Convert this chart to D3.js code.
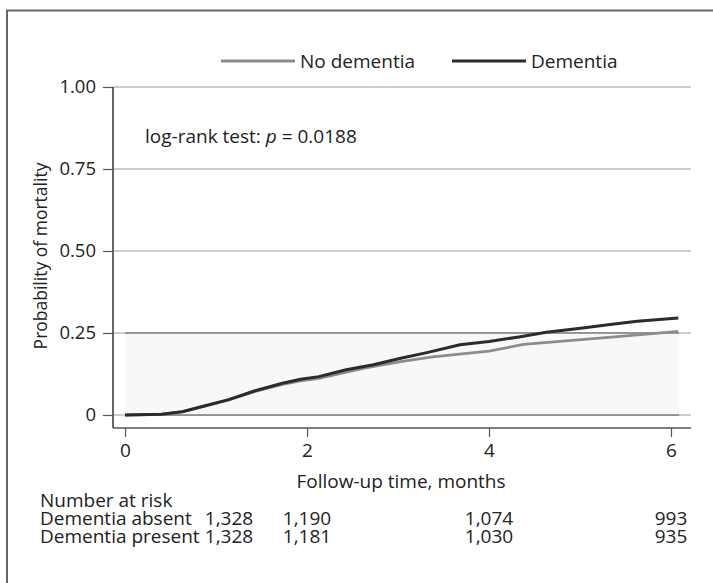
<!DOCTYPE html>
<html>
<head>
<meta charset="utf-8">
<script src="https://cdn.jsdelivr.net/npm/d3@7"></script>
<style>
  body { margin: 0; background: #fff; }
  text { font-family: "Open Sans", sans-serif; fill: #222; }
</style>
</head>
<body>
<svg id="chart" width="713" height="583"></svg>
<script>
// cumulative mortality (months, probability)
const monthsDementia = [0, 0.4, 0.63, 0.88, 1.13, 1.43, 1.73, 1.93, 2.13, 2.43, 2.73, 3.03, 3.33, 3.68, 4.0, 4.33, 4.63, 5.03, 5.33, 5.63, 6.08];
const probDementia   = [0, 0.002, 0.01, 0.028, 0.046, 0.074, 0.097, 0.109, 0.117, 0.138, 0.153, 0.173, 0.191, 0.214, 0.224, 0.238, 0.252, 0.265, 0.276, 0.286, 0.296];

const monthsNoDementia = [0, 0.4, 0.63, 0.88, 1.13, 1.43, 1.73, 1.93, 2.13, 2.63, 3.03, 3.38, 4.0, 4.38, 4.88, 5.38, 6.08];
const probNoDementia   = [0, 0.002, 0.01, 0.027, 0.045, 0.072, 0.093, 0.104, 0.112, 0.143, 0.163, 0.177, 0.195, 0.215, 0.227, 0.238, 0.255];

const yTicks = [0, 0.25, 0.5, 0.75, 1];
const yTickLabels = ["0", "0.25", "0.50", "0.75", "1.00"];
const xTicks = [0, 2, 4, 6];

const riskTimes = [0, 2, 4, 6];
const riskGroups = ["Dementia absent", "Dementia present"];
const riskAbsent = ["1,328", "1,190", "1,074", "993"];
const riskPresent = ["1,328", "1,181", "1,030", "935"];

const seriesNames = ["No dementia", "Dementia"];
const seriesColors = ["#8c8c8c", "#2b2b2b"];

const svg = d3.select("#chart");

const x = d3.scaleLinear().domain([0, 6]).range([125, 671]);
const y = d3.scaleLinear().domain([0, 1]).range([415, 87]);
const plotLeft = 113, plotRight = 691, axisY = 428;

// outer frame (left and top only)
svg.append("path")
    .attr("d", "M7,583V10.5H713")
    .attr("fill", "none")
    .attr("stroke", "#666")
    .attr("stroke-width", 2);

// gridlines
svg.append("g")
  .selectAll("line")
  .data(yTicks)
  .join("line")
    .attr("x1", plotLeft)
    .attr("x2", plotRight)
    .attr("y1", d => y(d))
    .attr("y2", d => y(d))
    .attr("stroke", "#bdbdbd")
    .attr("stroke-width", 1.5);

// shaded band under 0.25
const tEnd = 6.09;
svg.append("rect")
    .attr("x", x(0))
    .attr("y", y(0.25))
    .attr("width", x(tEnd) - x(0))
    .attr("height", y(0) - y(0.25))
    .attr("fill", "#f8f8f8");

svg.append("g")
  .selectAll("line")
  .data([0, 0.25])
  .join("line")
    .attr("x1", x(0))
    .attr("x2", x(tEnd))
    .attr("y1", d => y(d))
    .attr("y2", d => y(d))
    .attr("stroke", "#7d7d7d")
    .attr("stroke-width", 1.5);

// y axis
const yAxis = svg.append("g")
    .attr("transform", `translate(${plotLeft},0)`)
    .call(d3.axisLeft(y)
      .tickValues(yTicks)
      .tickFormat((d, i) => yTickLabels[i])
      .tickSize(10)
      .tickPadding(7)
      .tickSizeOuter(0));
yAxis.select(".domain")
    .attr("d", `M0,${y(1)}V${axisY}`)
    .attr("stroke", "#333")
    .attr("stroke-width", 1.5);
yAxis.selectAll(".tick line").attr("stroke", "#555").attr("stroke-width", 1.2);
yAxis.selectAll(".tick text")
    .style("font-family", "'Open Sans', sans-serif")
    .style("font-size", "18.5px")
    .attr("fill", "#222");

// x axis
const xAxis = svg.append("g")
    .attr("transform", `translate(0,${axisY})`)
    .call(d3.axisBottom(x)
      .tickValues(xTicks)
      .tickFormat(d3.format("d"))
      .tickSize(9)
      .tickPadding(7)
      .tickSizeOuter(0));
xAxis.select(".domain")
    .attr("d", `M${plotLeft},0H${plotRight}`)
    .attr("stroke", "#555")
    .attr("stroke-width", 1.5);
xAxis.selectAll(".tick line").attr("stroke", "#555").attr("stroke-width", 1.2);
xAxis.selectAll(".tick text")
    .style("font-family", "'Open Sans', sans-serif")
    .style("font-size", "19px")
    .attr("fill", "#222");

// axis titles
svg.append("text")
    .attr("transform", "translate(47,256) rotate(-90)")
    .attr("text-anchor", "middle")
    .style("font-size", "17.5px")
    .text("Probability of mortality");

svg.append("text")
    .attr("x", 401)
    .attr("y", 488)
    .attr("text-anchor", "middle")
    .style("font-size", "19px")
    .text("Follow-up time, months");

// curves
const line = d3.line().x(d => x(d[0])).y(d => y(d[1]));
const curves = [
  d3.zip(monthsNoDementia, probNoDementia),
  d3.zip(monthsDementia, probDementia)
];
svg.append("g")
  .selectAll("path")
  .data(curves)
  .join("path")
    .attr("d", line)
    .attr("fill", "none")
    .attr("stroke", (d, i) => seriesColors[i])
    .attr("stroke-width", (d, i) => i ? 3 : 2.8)
    .attr("stroke-linejoin", "round");

// p-value note
const note = svg.append("text")
    .attr("x", 145)
    .attr("y", 143)
    .style("font-size", "19px");
note.append("tspan").text("log-rank test: ");
note.append("tspan").style("font-style", "italic").text("p");
note.append("tspan").text(" = 0.0188");

// legend
const legendX = [221, 452];
const legend = svg.append("g")
  .selectAll("g")
  .data(seriesNames)
  .join("g")
    .attr("transform", (d, i) => `translate(${legendX[i]},61)`);
legend.append("line")
    .attr("x1", 0).attr("x2", 74)
    .attr("stroke", (d, i) => seriesColors[i])
    .attr("stroke-width", 3);
legend.append("text")
    .attr("x", 79)
    .attr("y", 6.5)
    .style("font-size", "19px")
    .text(d => d);

// number at risk table
const table = svg.append("g");
table.append("text")
    .attr("x", 40).attr("y", 507)
    .style("font-size", "19px")
    .text("Number at risk");
const rows = [riskAbsent, riskPresent];
rows.forEach((vals, r) => {
  const yy = 525 + r * 17.5;
  table.append("text")
      .attr("x", 40).attr("y", yy)
      .style("font-size", "19px")
      .text(riskGroups[r]);
  table.selectAll(null)
    .data(vals)
    .join("text")
      .attr("x", (d, i) => riskTimes[i] === 0 ? x(0) + 104 : x(riskTimes[i]))
      .attr("y", yy)
      .attr("text-anchor", "middle")
      .style("font-size", "19px")
      .text(d => d);
});
</script>
</body>
</html>
